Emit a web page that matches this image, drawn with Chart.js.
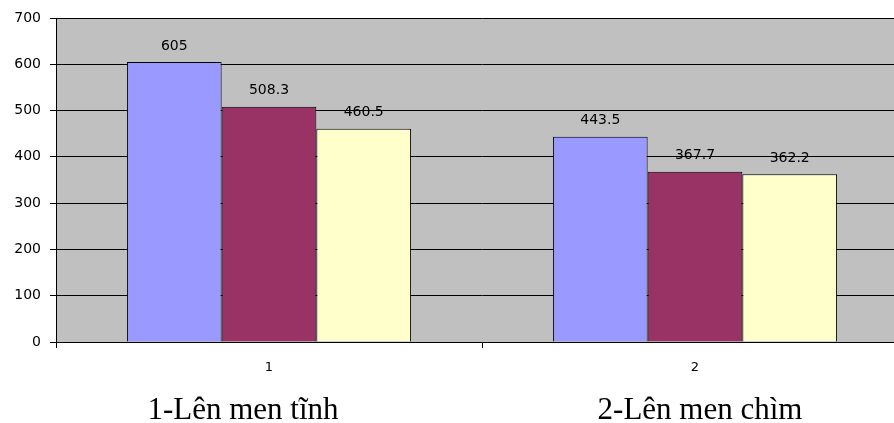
<!DOCTYPE html>
<html>
<head>
<meta charset="utf-8">
<script src="https://cdn.jsdelivr.net/npm/chart.js@4"></script>
<style>
  html, body { margin: 0; padding: 0; background: #fff; overflow: hidden; }
  #wrap { width: 908px; height: 423px; }
</style>
</head>
<body>
<div id="wrap"><canvas id="myChart" width="908" height="423"></canvas></div>
<script>
// Data
const categories = ['1', '2'];
const captions = ['1-Lên men tĩnh', '2-Lên men chìm'];
const seriesA = [605, 443.5];
const seriesB = [508.3, 367.7];
const seriesC = [460.5, 362.2];
const yTicks = [0, 100, 200, 300, 400, 500, 600, 700];

// value labels above bars
const valueLabels = {
  id: 'valueLabels',
  afterDatasetsDraw(chart) {
    const ctx = chart.ctx;
    ctx.save();
    ctx.font = '14px "DejaVu Sans"';
    ctx.fillStyle = '#000';
    ctx.textAlign = 'center';
    ctx.textBaseline = 'bottom';
    chart.data.datasets.forEach((ds, i) => {
      chart.getDatasetMeta(i).data.forEach((bar, j) => {
        ctx.fillText(String(ds.data[j]), bar.x, bar.y - 9);
      });
    });
    ctx.restore();
  }
};

// big captions under the axis (text boxes, not quite centred on the categories)
const captionShift = [-26, 5];
const captionText = {
  id: 'captionText',
  afterDraw(chart) {
    const ctx = chart.ctx;
    const x = chart.scales.x;
    ctx.save();
    ctx.font = '31px "Liberation Serif"';
    ctx.fillStyle = '#000';
    ctx.textAlign = 'center';
    ctx.textBaseline = 'alphabetic';
    captions.forEach((c, i) => {
      ctx.fillText(c, x.getPixelForValue(i) + captionShift[i], 419);
    });
    ctx.restore();
  }
};

// plot area background
const plotBg = {
  id: 'plotBg',
  beforeDraw(chart) {
    const a = chart.chartArea;
    chart.ctx.save();
    chart.ctx.fillStyle = '#c0c0c0';
    chart.ctx.fillRect(a.left, a.top, a.right - a.left, a.bottom - a.top);
    chart.ctx.restore();
  }
};

const config = {
  type: 'bar',
  data: {
    labels: categories,
    datasets: [
      { data: seriesA, backgroundColor: '#9999ff', borderColor: '#000', borderWidth: 1 },
      { data: seriesB, backgroundColor: '#993366', borderColor: '#000', borderWidth: 1 },
      { data: seriesC, backgroundColor: '#ffffcc', borderColor: '#000', borderWidth: 1 }
    ]
  },
  options: {
    responsive: false,
    animation: false,
    events: [],
    layout: { padding: { top: 18, right: 0, left: 0, bottom: 0 } },
    datasets: {
      bar: { categoryPercentage: 0.667, barPercentage: 1 }
    },
    plugins: {
      legend: { display: false },
      tooltip: { enabled: false }
    },
    scales: {
      y: {
        min: 0,
        max: 700,
        afterFit: (scale) => { scale.width = 56; },
        afterBuildTicks: (scale) => { scale.ticks = yTicks.map(v => ({ value: v })); },
        grid: { color: '#000', lineWidth: 1, tickLength: 6, tickColor: '#000' },
        border: { color: '#000', width: 1 },
        ticks: {
          color: '#000',
          padding: 9,
          font: { family: 'DejaVu Sans', size: 14 }
        }
      },
      x: {
        afterFit: (scale) => { scale.height = 81; },
        grid: { offset: true, drawOnChartArea: false, tickLength: 6, color: '#000' },
        border: { color: '#000', width: 1 },
        ticks: {
          color: '#000',
          padding: 12,
          font: { family: 'DejaVu Sans', size: 13 }
        }
      }
    }
  },
  plugins: [plotBg, valueLabels, captionText]
};

const myChart = new Chart(document.getElementById('myChart'), config);
</script>
</body>
</html>
